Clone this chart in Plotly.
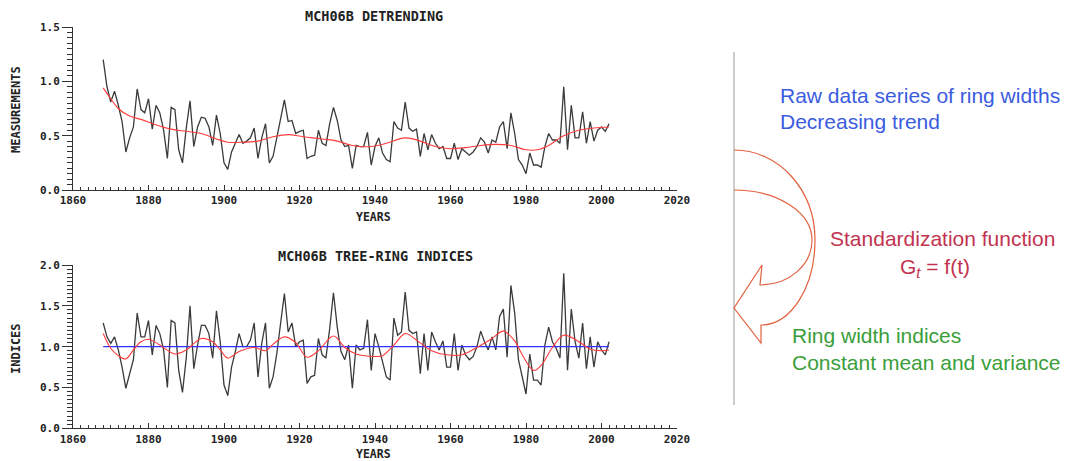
import plotly.graph_objects as go

# ---------------- data ----------------
years = list(range(1868, 2003))

raw_widths = [
    1.20, 0.95, 0.81, 0.91, 0.78, 0.63, 0.35, 0.48, 0.58, 0.93,          # 1868-1877
    0.74, 0.71, 0.84, 0.56, 0.78, 0.71, 0.55, 0.29, 0.76, 0.74,          # 1878-1887
    0.37, 0.25, 0.57, 0.82, 0.40, 0.58, 0.67, 0.66, 0.58, 0.41,          # 1888-1897
    0.69, 0.52, 0.25, 0.19, 0.35, 0.43, 0.51, 0.43, 0.45, 0.48,          # 1898-1907
    0.57, 0.29, 0.48, 0.61, 0.25, 0.31, 0.49, 0.67, 0.83, 0.63,          # 1908-1917
    0.64, 0.52, 0.54, 0.55, 0.29, 0.31, 0.32, 0.55, 0.43, 0.41,          # 1918-1927
    0.61, 0.76, 0.64, 0.46, 0.40, 0.41, 0.20, 0.41, 0.40, 0.40,          # 1928-1937
    0.53, 0.23, 0.40, 0.48, 0.34, 0.28, 0.26, 0.63, 0.57, 0.55,          # 1938-1947
    0.81, 0.57, 0.54, 0.56, 0.31, 0.52, 0.37, 0.51, 0.43, 0.38,          # 1948-1957
    0.40, 0.29, 0.29, 0.43, 0.28, 0.38, 0.35, 0.32, 0.35, 0.40,          # 1958-1967
    0.48, 0.44, 0.34, 0.46, 0.44, 0.58, 0.63, 0.38, 0.71, 0.52,          # 1968-1977
    0.28, 0.23, 0.15, 0.34, 0.23, 0.23, 0.21, 0.40, 0.52, 0.46,          # 1978-1987
    0.46, 0.43, 0.95, 0.37, 0.78, 0.48, 0.48, 0.72, 0.43, 0.63,          # 1988-1997
    0.45, 0.55, 0.58, 0.54, 0.61,                                        # 1998-2002
]

ring_indices = [
    1.29, 1.12, 1.04, 1.12, 0.96, 0.75, 0.49, 0.67, 0.84, 1.41,          # 1868-1877
    1.12, 1.12, 1.32, 0.90, 1.26, 1.16, 0.96, 0.50, 1.32, 1.29,          # 1878-1887
    0.71, 0.44, 0.86, 1.50, 0.73, 1.02, 1.26, 1.26, 1.16, 0.86,          # 1888-1897
    1.44, 1.06, 0.53, 0.40, 0.75, 0.94, 1.16, 1.00, 1.00, 1.08,          # 1898-1907
    1.29, 0.63, 1.04, 1.29, 0.49, 0.63, 0.92, 1.29, 1.65, 1.18,          # 1908-1917
    1.29, 1.00, 1.06, 1.08, 0.55, 0.63, 0.65, 1.10, 0.90, 0.86,          # 1918-1927
    1.22, 1.66, 1.24, 0.94, 0.84, 1.02, 0.49, 1.02, 0.96, 0.98,          # 1928-1937
    1.33, 0.71, 1.16, 1.00, 0.80, 0.63, 0.59, 1.35, 1.14, 1.18,          # 1938-1947
    1.67, 1.20, 1.16, 1.18, 0.67, 1.16, 0.71, 1.18, 1.06, 0.96,          # 1948-1957
    1.07, 0.75, 0.75, 1.16, 0.71, 1.02, 0.90, 0.84, 0.88, 1.00,          # 1958-1967
    1.19, 1.06, 0.96, 1.12, 0.96, 1.37, 1.46, 0.87, 1.75, 1.41,          # 1968-1977
    0.84, 0.63, 0.42, 0.91, 0.59, 0.59, 0.53, 1.02, 1.24, 1.06,          # 1978-1987
    0.98, 0.86, 1.90, 0.71, 1.46, 1.06, 0.86, 1.29, 0.73, 1.12,          # 1988-1997
    0.75, 1.06, 0.96, 0.90, 1.06,                                        # 1998-2002
]

trend_years = [1868, 1870, 1872, 1875, 1878, 1882, 1886, 1890, 1894, 1898, 1901, 1905,
               1909, 1913, 1917, 1921, 1926, 1930, 1934, 1939, 1943, 1948, 1952, 1956,
               1960, 1964, 1968, 1972, 1976, 1980, 1983, 1986, 1990, 1994, 1998, 2002]
trend_values = [0.94, 0.84, 0.75, 0.68, 0.65, 0.60, 0.56, 0.54, 0.52, 0.47, 0.44, 0.44,
                0.45, 0.49, 0.51, 0.49, 0.47, 0.45, 0.41, 0.40, 0.43, 0.48, 0.45, 0.40,
                0.38, 0.39, 0.41, 0.42, 0.41, 0.37, 0.37, 0.41, 0.50, 0.55, 0.57, 0.58]

smooth_years = [1868, 1870, 1872, 1874, 1876, 1878, 1880, 1883, 1887, 1890, 1894, 1897,
                1899, 1901, 1904, 1908, 1911, 1913, 1916, 1919, 1922, 1925, 1929, 1932,
                1935, 1940, 1942, 1945, 1948, 1951, 1955, 1959, 1963, 1967, 1971, 1974,
                1977, 1979, 1982, 1984, 1987, 1990, 1994, 1997, 2000, 2002]
smooth_values = [1.16, 0.98, 0.89, 0.85, 0.96, 1.06, 1.09, 1.02, 0.91, 0.96, 1.10, 1.06,
                 0.96, 0.86, 0.94, 0.99, 0.95, 1.03, 1.12, 1.05, 0.87, 0.95, 1.13, 0.99,
                 0.91, 0.88, 0.89, 1.02, 1.16, 1.08, 0.95, 0.90, 0.90, 0.99, 1.10, 1.19,
                 1.07, 0.90, 0.71, 0.77, 0.99, 1.14, 1.06, 0.97, 0.95, 0.96]

mean_years = [1868, 2002]
mean_values = [1.0, 1.0]

x_ticks = [1860, 1880, 1900, 1920, 1940, 1960, 1980, 2000, 2020]
top_ticks = [0.0, 0.5, 1.0, 1.5]
bottom_ticks = [0.0, 0.5, 1.0, 1.5, 2.0]

# ---------------- layout helpers ----------------
W, H = 1068, 461


def px(x):
    return x / W


def py(y):
    return 1 - y / H


MONO = "DejaVu Sans Mono"
SANS = "Liberation Sans, Arial, sans-serif"
INK = "#222222"

fig = go.Figure()
fig.add_trace(go.Scatter(x=years, y=raw_widths, mode="lines",
                         line=dict(color="#3a3a3a", width=1.3), xaxis="x", yaxis="y"))
fig.add_trace(go.Scatter(x=trend_years, y=trend_values, mode="lines",
                         line=dict(color="#ff3b3b", width=1.1, shape="spline", smoothing=1.0),
                         xaxis="x", yaxis="y"))
fig.add_trace(go.Scatter(x=years, y=ring_indices, mode="lines",
                         line=dict(color="#3a3a3a", width=1.3), xaxis="x2", yaxis="y2"))
fig.add_trace(go.Scatter(x=mean_years, y=mean_values, mode="lines",
                         line=dict(color="#3030ff", width=1.2), xaxis="x2", yaxis="y2"))
fig.add_trace(go.Scatter(x=smooth_years, y=smooth_values, mode="lines",
                         line=dict(color="#ff3b3b", width=1.1, shape="spline", smoothing=1.0),
                         xaxis="x2", yaxis="y2"))

tickfont = dict(family=MONO, size=11, color=INK, weight="bold")


def xaxis_cfg(anchor):
    return dict(domain=[px(73), px(677)], range=[1860, 2020], anchor=anchor,
                automargin=False,
                showline=True, linecolor="#333", linewidth=1, mirror=False,
                ticks="inside", ticklen=5, tickcolor="#333", tickvals=x_ticks,
                minor=dict(dtick=2, tick0=1860, ticks="inside", ticklen=3, tickcolor="#333"),
                tickfont=tickfont, showgrid=False, zeroline=False, fixedrange=True)


def yaxis_cfg(anchor, dom, rng, tv):
    return dict(domain=dom, range=rng, anchor=anchor,
                automargin=False,
                showline=True, linecolor="#333", linewidth=1,
                ticks="outside", ticklen=10, tickcolor="#333", tickvals=tv,
                tickformat=".1f",
                minor=dict(dtick=0.05, tick0=0, ticks="outside", ticklen=5, tickcolor="#333"),
                tickfont=tickfont, showgrid=False, zeroline=False, fixedrange=True)


fig.update_layout(
    width=W, height=H,
    autosize=False,
    margin=dict(l=0, r=0, t=0, b=0, pad=0),
    paper_bgcolor="white", plot_bgcolor="white",
    showlegend=False,
    xaxis=xaxis_cfg("y"),
    yaxis=yaxis_cfg("x", [py(190), py(27)], [0, 1.5], top_ticks),
    xaxis2=xaxis_cfg("y2"),
    yaxis2=yaxis_cfg("x2", [py(428.3), py(265)], [0, 2.0], bottom_ticks),
)

ann = []


def label(text, x, y, size, family=MONO, color=INK, angle=0, xanchor="center", weight="bold"):
    ann.append(dict(text=text, x=px(x), y=py(y), xref="paper", yref="paper",
                    showarrow=False, xanchor=xanchor, yanchor="middle", textangle=angle,
                    font=dict(family=family, size=size, color=color, weight=weight)))


label("MCH06B DETRENDING", 374, 16, 13.5)
label("MCH06B TREE-RING INDICES", 375, 256, 13.5)
label("YEARS", 373, 217, 11.5)
label("YEARS", 373, 454, 11.5)
label("MEASUREMENTS", 16, 110, 12, angle=-90)
label("INDICES", 16, 349, 12, angle=-90)

BLUE = "#3b5ce0"
CRIMSON = "#c2334f"
GREEN = "#3a9e3a"
label("Raw data series of ring widths", 778, 95, 21, family=SANS, color=BLUE, xanchor="left", weight="normal")
label("Decreasing trend", 778, 122, 21, family=SANS, color=BLUE, xanchor="left", weight="normal")
label("Standardization function", 828, 238, 21, family=SANS, color=CRIMSON, xanchor="left", weight="normal")
label("G<sub><i>t</i></sub> = f(t)", 935, 268, 21, family=SANS, color=CRIMSON, weight="normal")
label("Ring width indices", 790, 335, 21, family=SANS, color=GREEN, xanchor="left", weight="normal")
label("Constant mean and variance", 790, 362, 21, family=SANS, color=GREEN, xanchor="left", weight="normal")
fig.update_layout(annotations=ann)


def P(x, y):
    return f"{px(x):.5f},{py(y):.5f}"


arrow_path = (
    f"M {P(734, 150)} "
    f"C {P(779, 150)} {P(815, 190)} {P(815, 240)} "
    f"C {P(815, 287)} {P(791, 325)} {P(761, 325)} "
    f"L {P(761, 343)} L {P(734, 308)} L {P(762, 265)} L {P(760, 285)} "
    f"C {P(789, 285)} {P(812, 265)} {P(812, 240)} "
    f"C {P(812, 212)} {P(777, 190)} {P(734, 190)}"
)

fig.update_layout(shapes=[
    dict(type="line", xref="paper", yref="paper", x0=px(734), x1=px(734), y0=py(52), y1=py(405),
         line=dict(color="#9a9a9a", width=1)),
    dict(type="path", xref="paper", yref="paper", path=arrow_path,
         line=dict(color="#e2603f", width=1.2), fillcolor="rgba(0,0,0,0)"),
])

fig.write_html(
    "out.html",
    config={"displayModeBar": False},
    post_script="document.body.style.margin='0';document.body.style.overflow='hidden';",
)
